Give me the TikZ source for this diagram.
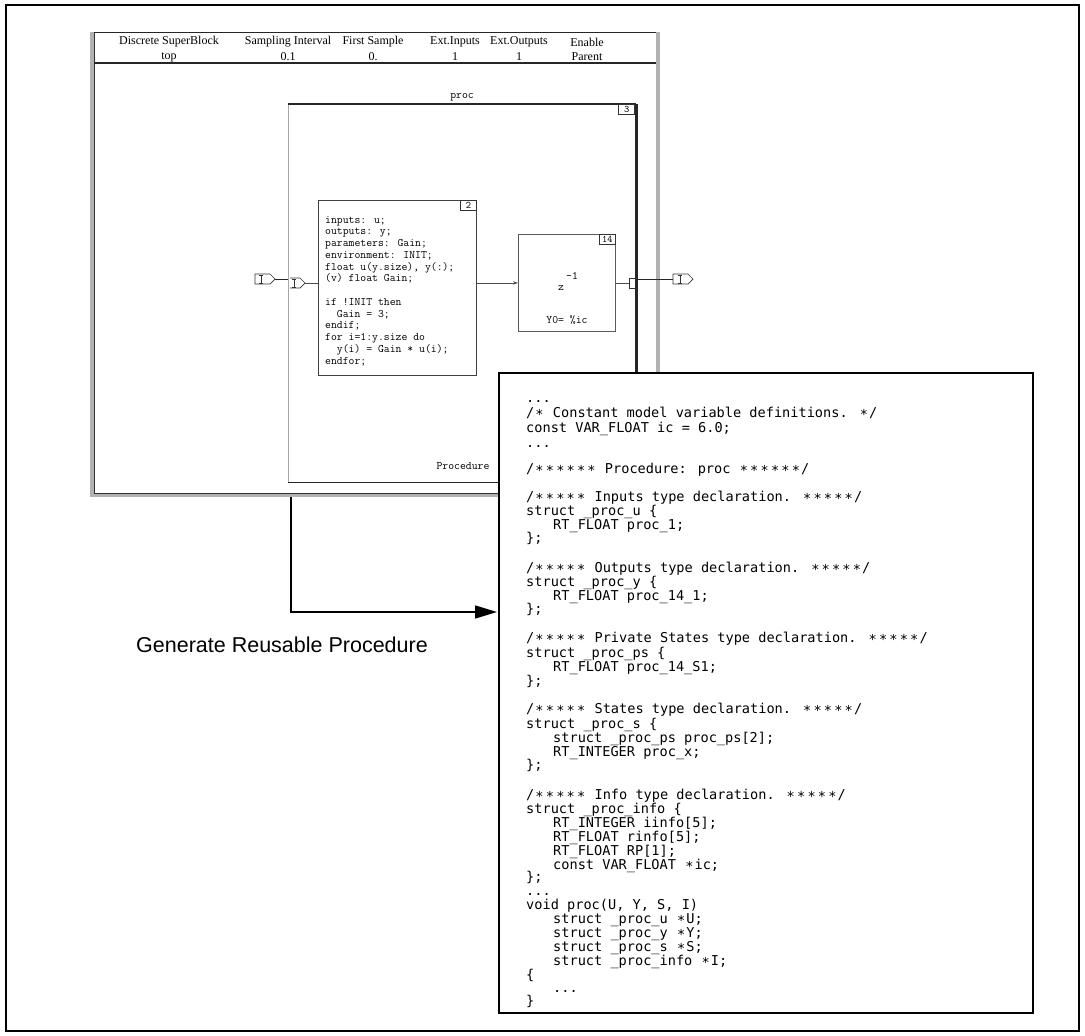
\documentclass[tikz,border=0pt]{standalone}
\usepackage{fontspec}
\setmainfont{Liberation Serif}
\newfontfamily\codefont{DejaVu Sans Mono}
\newfontfamily\labelfont{Liberation Sans}
\usetikzlibrary{arrows.meta}
\newcommand\wst{\makebox[10.4pt]{\raisebox{-2.5pt}{*}}}
\begin{document}
\begin{tikzpicture}[x=1pt,y=-1pt,
  hdr/.style={inner sep=0pt, font=\fontsize{12}{12}\selectfont},
  tt/.style={inner sep=0pt, font=\ttfamily\fontsize{11.4}{11.75}\selectfont},
  numbox/.style={draw=black!80, line width=0.7pt, inner sep=0pt, minimum width=16pt, minimum height=10pt, anchor=north east, font=\ttfamily\fontsize{10}{10}\selectfont},
  blk/.style={draw=black!75, line width=0.8pt, anchor=north west, inner sep=0pt},
  winedge/.style={draw=gray!60, line width=4pt},
  cl/.style={anchor=base west, inner sep=0pt, font=\codefont\fontsize{13.6}{14}\selectfont},
  port/.style={draw=black!80, line width=0.7pt}
]
\useasboundingbox (0,0) rectangle (1085,1036);
\draw[line width=2pt] (6,5) rectangle (1079,1031);

% window
\node[anchor=north west, inner sep=0pt, minimum width=566pt, minimum height=463pt] (win) at (92,32) {};
\draw[winedge] (win.north west) -- (win.south west) -- (win.south east) -- (win.north east);
\draw[black!80, line width=0.6pt] ([xshift=2pt]win.north west) -- ([xshift=2pt,yshift=2pt]win.south west) -- ([xshift=-2pt,yshift=2pt]win.south east);
\draw[black!85, line width=1pt] ([xshift=2pt]win.north west) -- ([xshift=-2pt]win.north east);
\draw[black!85, line width=1.5pt] ([xshift=2pt,yshift=-31pt]win.north west) coordinate (hdl) -- ([xshift=-2pt,yshift=-31pt]win.north east) coordinate (hdr);

\node[hdr] (h1a) at (169,42) {Discrete SuperBlock};
\node[hdr] (h1b) at (169,57) {top};
\node[hdr] (h2a) at (288,42) {Sampling Interval};
\node[hdr] (h2b) at (288,57) {0.1};
\node[hdr] (h3a) at (373,42) {First Sample};
\node[hdr] (h3b) at (373,57) {0.};
\node[hdr] (h4a) at (455,42) {Ext.Inputs};
\node[hdr] (h4b) at (455,57) {1};
\node[hdr] (h5a) at (519,42) {Ext.Outputs};
\node[hdr] (h5b) at (519,57) {1};
\node[hdr] (h6a) at (587,42) {Enable};
\node[hdr] (h6b) at (587,57) {Parent};

% proc block
\node[anchor=north west, inner sep=0pt, minimum width=348pt, minimum height=378pt] (proc) at (288,104) {};
\draw[gray!70, line width=0.9pt] (proc.north west) -- (proc.south west);
\draw[black!85, line width=1.1pt] (proc.north west) -- (proc.north east);
\draw[black!85, line width=1.1pt] (proc.south west) -- (proc.south east);
\draw[black!85, line width=2.6pt] (proc.north east) -- (proc.south east);
\node[tt] (proclbl) at (462,97) {proc};
\node[numbox] (n3) at ([xshift=-1.3pt]proc.north east) {3};
\node[tt] (procedurelbl) at (463,466) {Procedure};

% code block 2
\node[blk, minimum width=158pt, minimum height=175pt] (code2) at (318,200) {};
\node[numbox] (n2) at (code2.north east) {2};
\node[tt, anchor=north west, align=left] (code2txt) at (325,216) {inputs: u;\\
outputs: y;\\
parameters: Gain;\\
environment: INIT;\\
float u(y.size), y(:);\\
(v) float Gain;\\[11.75pt]
if !INIT then\\
\ \ Gain = 3;\\
endif;\\
for i=1:y.size do\\
\ \ y(i) = Gain * u(i);\\
endfor;};

% z^-1 block
\node[blk, draw=gray!70!black, minimum width=97pt, minimum height=97pt] (zblk) at (518,234) {};
\node[numbox] (n14) at (zblk.north east) {14};
\node[tt] (zz) at (561,288) {z};
\node[tt] (zexp) at (572,276) {-1};
\node[tt] (y0) at (567,320) {Y0= \%ic};

% connections inside proc
\draw[gray!60!black, line width=0.8pt, -{Stealth[length=5pt,width=3.5pt]}] (code2.east |- zblk.west) -- (zblk.west);

% left ports
\coordinate (inport) at (275,279);
\coordinate (procin) at (288,279);
\draw[port] (255,274) -- (270,274) -- (inport) -- (270,284) -- (255,284) -- cycle;
\draw[port] (261,275) -- (261,283) (259,275) -- (263,275) (259,283) -- (263,283);
\draw[black!85, line width=0.8pt] (inport) -- (procin);
\coordinate (dport) at (305,283);
\draw[port] (290,278) -- (300,278) -- (dport) -- (300,288) -- (290,288);
\draw[port] (294,279) -- (294,287) (292,279) -- (296,279) (292,287) -- (296,287);
\draw[gray!60!black, line width=0.8pt] (dport) -- (code2.west |- dport);

% right ports
\coordinate (bkt) at (629,283);
\draw[gray!60!black, line width=0.8pt] (zblk.east |- bkt) -- (bkt);
\draw[port] (637,278) -- (629,278) -- (629,288) -- (637,288);
\coordinate (procout) at (637,279);
\coordinate (outport) at (673,279);
\draw[black!85, line width=0.8pt] (procout) -- (outport);
\draw[port] (outport) |- (688,274) -- (693,279) -- (688,284) -| (outport);
\draw[port] (680,275) -- (680,283) (678,275) -- (682,275) (678,283) -- (682,283);

% code box
\node[draw=black, line width=1.8pt, fill=white, anchor=north west, minimum width=534pt, minimum height=640pt, inner sep=0pt] (codebox) at (498,372) {};

% arrow
\coordinate (winout) at (291,497);
\path (codebox.north west) ++(0,240) coordinate (arrowend);
\draw[line width=1.5pt, -{Triangle[length=22pt,width=13pt]}] (winout) |- ([xshift=-1pt]arrowend);
\node[inner sep=0pt, font=\labelfont\fontsize{21.5}{24}\selectfont] (genlbl) at (282,645) {Generate Reusable Procedure};

% code text
\node[cl] (c01) at (526,402) {...};
\node[cl] (c02) at (526,417) {/\wst{} Constant model variable definitions. \wst/};
\node[cl] (c03) at (526,432) {const VAR\_FLOAT ic = 6.0;};
\node[cl] (c04) at (526,447) {...};
\node[cl] (c05) at (526,473) {/\wst\wst\wst\wst\wst\wst{} Procedure: proc \wst\wst\wst\wst\wst\wst/};
\node[cl] (c06) at (526,501) {/\wst\wst\wst\wst\wst{} Inputs type declaration. \wst\wst\wst\wst\wst/};
\node[cl] (c07) at (526,515) {struct \_proc\_u \{};
\node[cl] (c08) at (553,529) {RT\_FLOAT proc\_1;};
\node[cl] (c09) at (526,542) {\};};
\node[cl] (c10) at (526,572) {/\wst\wst\wst\wst\wst{} Outputs type declaration. \wst\wst\wst\wst\wst/};
\node[cl] (c11) at (526,586) {struct \_proc\_y \{};
\node[cl] (c12) at (553,600) {RT\_FLOAT proc\_14\_1;};
\node[cl] (c13) at (526,613) {\};};
\node[cl] (c14) at (526,642) {/\wst\wst\wst\wst\wst{} Private States type declaration. \wst\wst\wst\wst\wst/};
\node[cl] (c15) at (526,657) {struct \_proc\_ps \{};
\node[cl] (c16) at (553,671) {RT\_FLOAT proc\_14\_S1;};
\node[cl] (c17) at (526,685) {\};};
\node[cl] (c18) at (526,713) {/\wst\wst\wst\wst\wst{} States type declaration. \wst\wst\wst\wst\wst/};
\node[cl] (c19) at (526,728) {struct \_proc\_s \{};
\node[cl] (c20) at (553,742) {struct \_proc\_ps proc\_ps[2];};
\node[cl] (c21) at (553,756) {RT\_INTEGER proc\_x;};
\node[cl] (c22) at (526,769) {\};};
\node[cl] (c23) at (526,799) {/\wst\wst\wst\wst\wst{} Info type declaration. \wst\wst\wst\wst\wst/};
\node[cl] (c24) at (526,813) {struct \_proc\_info \{};
\node[cl] (c25) at (553,827) {RT\_INTEGER iinfo[5];};
\node[cl] (c26) at (553,841) {RT\_FLOAT rinfo[5];};
\node[cl] (c27) at (553,855) {RT\_FLOAT RP[1];};
\node[cl] (c28) at (553,869) {const VAR\_FLOAT \wst{}ic;};
\node[cl] (c29) at (526,881) {\};};
\node[cl] (c30) at (526,895) {...};
\node[cl] (c31) at (526,909) {void proc(U, Y, S, I)};
\node[cl] (c32) at (553,923) {struct \_proc\_u \wst{}U;};
\node[cl] (c33) at (553,937) {struct \_proc\_y \wst{}Y;};
\node[cl] (c34) at (553,951) {struct \_proc\_s \wst{}S;};
\node[cl] (c35) at (553,965) {struct \_proc\_info \wst{}I;};
\node[cl] (c36) at (526,979) {\{};
\node[cl] (c37) at (553,992) {...};
\node[cl] (c38) at (526,1005) {\}};
\end{tikzpicture}
\end{document}
